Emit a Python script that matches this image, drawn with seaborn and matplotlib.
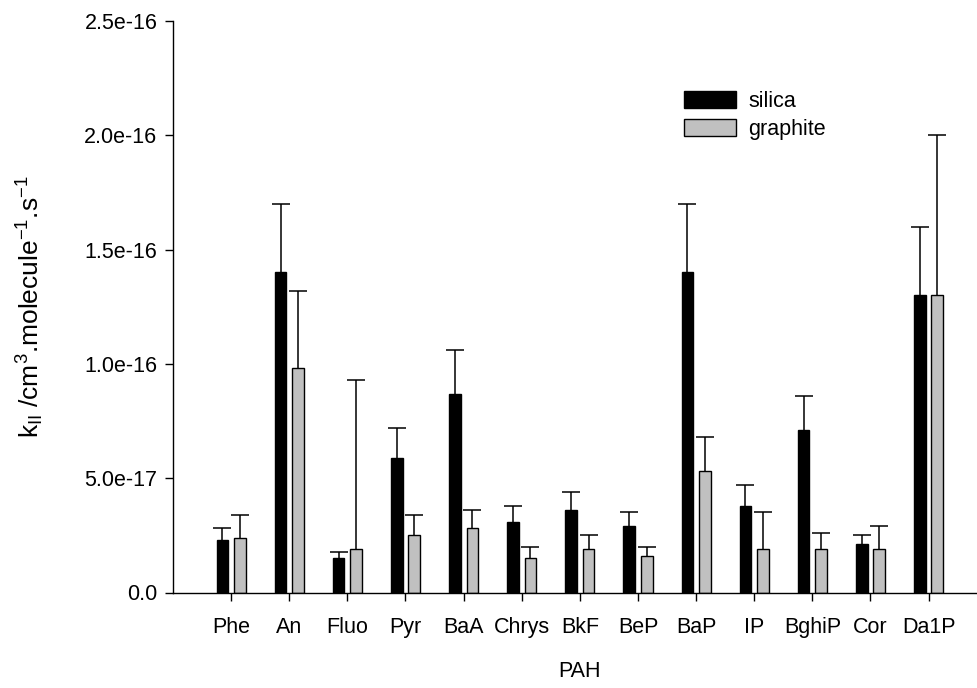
import numpy as np
import pandas as pd
import matplotlib
matplotlib.use("Agg")
import matplotlib.pyplot as plt
from matplotlib.patches import Patch
from matplotlib.ticker import FuncFormatter
import seaborn as sns

# PAH compounds on the x axis
pahs = ["Phe", "An", "Fluo", "Pyr", "BaA", "Chrys", "BkF", "BeP", "BaP",
        "IP", "BghiP", "Cor", "Da1P"]

# Second-order rate constants (cm3 molecule-1 s-1) and their upper error
silica = [2.3e-17, 1.4e-16, 1.5e-17, 5.9e-17, 8.7e-17, 3.1e-17, 3.6e-17,
          2.9e-17, 1.4e-16, 3.8e-17, 7.1e-17, 2.1e-17, 1.3e-16]
silica_err = [0.5e-17, 3.0e-17, 0.25e-17, 1.3e-17, 1.9e-17, 0.7e-17, 0.8e-17,
              0.6e-17, 3.0e-17, 0.9e-17, 1.5e-17, 0.4e-17, 3.0e-17]
graphite = [2.4e-17, 9.8e-17, 1.9e-17, 2.5e-17, 2.8e-17, 1.5e-17, 1.9e-17,
            1.6e-17, 5.3e-17, 1.9e-17, 1.9e-17, 1.9e-17, 1.3e-16]
graphite_err = [1.0e-17, 3.4e-17, 7.4e-17, 0.9e-17, 0.8e-17, 0.5e-17, 0.6e-17,
                0.4e-17, 1.5e-17, 1.6e-17, 0.7e-17, 1.0e-17, 7.0e-17]

surfaces = ["silica", "graphite"]
colors = ["#000000", "#c0c0c0"]

df = pd.DataFrame({
    "PAH": pahs * 2,
    "k": silica + graphite,
    "surface": [surfaces[0]] * len(pahs) + [surfaces[1]] * len(pahs),
})

sns.set_style("ticks")
plt.rcParams["font.family"] = ["Liberation Sans", "DejaVu Sans"]
plt.rcParams["mathtext.fontset"] = "custom"
plt.rcParams["mathtext.rm"] = "Liberation Sans"
plt.rcParams["mathtext.it"] = "Liberation Sans"
plt.rcParams["text.color"] = "black"
plt.rcParams["axes.labelcolor"] = "black"

FS = 15.5

fig = plt.figure(figsize=(9.78, 6.88), dpi=100)
W, H = 978, 688
ax = fig.add_axes([173 / W, 1 - 592.5 / H, 813.7 / W, 571.5 / H])

sns.barplot(data=df, x="PAH", y="k", hue="surface", palette=colors,
            width=0.6, gap=1 / 3, saturation=1, edgecolor="black",
            linewidth=1.0, errorbar=None, legend=False, ax=ax, zorder=2)

# one-sided (upper) error bars on top of each bar: keep only the upper caps
for cont, errs in zip(ax.containers, [silica_err, graphite_err]):
    xs = [p.get_x() + p.get_width() / 2 for p in cont.patches]
    ys = np.array([p.get_height() for p in cont.patches])
    _, caps, _ = ax.errorbar(xs, ys, yerr=[np.zeros(len(errs)), errs],
                             fmt="none", ecolor="black", elinewidth=1.1,
                             capsize=6.5, capthick=1.1, zorder=3)
    for cap in caps:
        if np.allclose(cap.get_ydata(), ys, rtol=1e-6, atol=0):
            cap.set_visible(False)

ax.set_xlim(-1, 13)
ax.set_ylim(0, 2.5e-16)
ax.set_yticks(np.arange(0, 2.51e-16, 0.5e-16))
ax.yaxis.set_major_formatter(
    FuncFormatter(lambda v, _: "0.0" if abs(v) < 1e-30 else f"{v:.1e}"))

sns.despine(ax=ax)
for s in ("left", "bottom"):
    ax.spines[s].set_linewidth(1.0)
    ax.spines[s].set_color("black")
ax.tick_params(axis="both", direction="out", length=5.8, width=1.0,
               colors="black", labelsize=FS)
ax.tick_params(axis="y", pad=5.5)
ax.tick_params(axis="x", pad=11.5)

ax.set_xlabel("PAH", fontsize=FS, labelpad=17)
ax.set_ylabel(r"k$_{\mathregular{II}}$ /cm$^{\mathregular{3}}$.molecule"
              r"$^{\mathregular{-1}}$.s$^{\mathregular{-1}}$", fontsize=19)
ax.yaxis.set_label_coords(-0.156, 0.5)

handles = [Patch(facecolor=c, edgecolor="black", linewidth=1.0) for c in colors]
ax.legend(handles, surfaces, loc="upper left", frameon=False,
          bbox_to_anchor=(684 / W, 1 - 91 / H), bbox_transform=fig.transFigure,
          fontsize=FS, borderpad=0, borderaxespad=0, handlelength=2.42,
          handleheight=0.79, handletextpad=0.56, labelspacing=0.32)

fig.savefig("out.png", dpi=100)
